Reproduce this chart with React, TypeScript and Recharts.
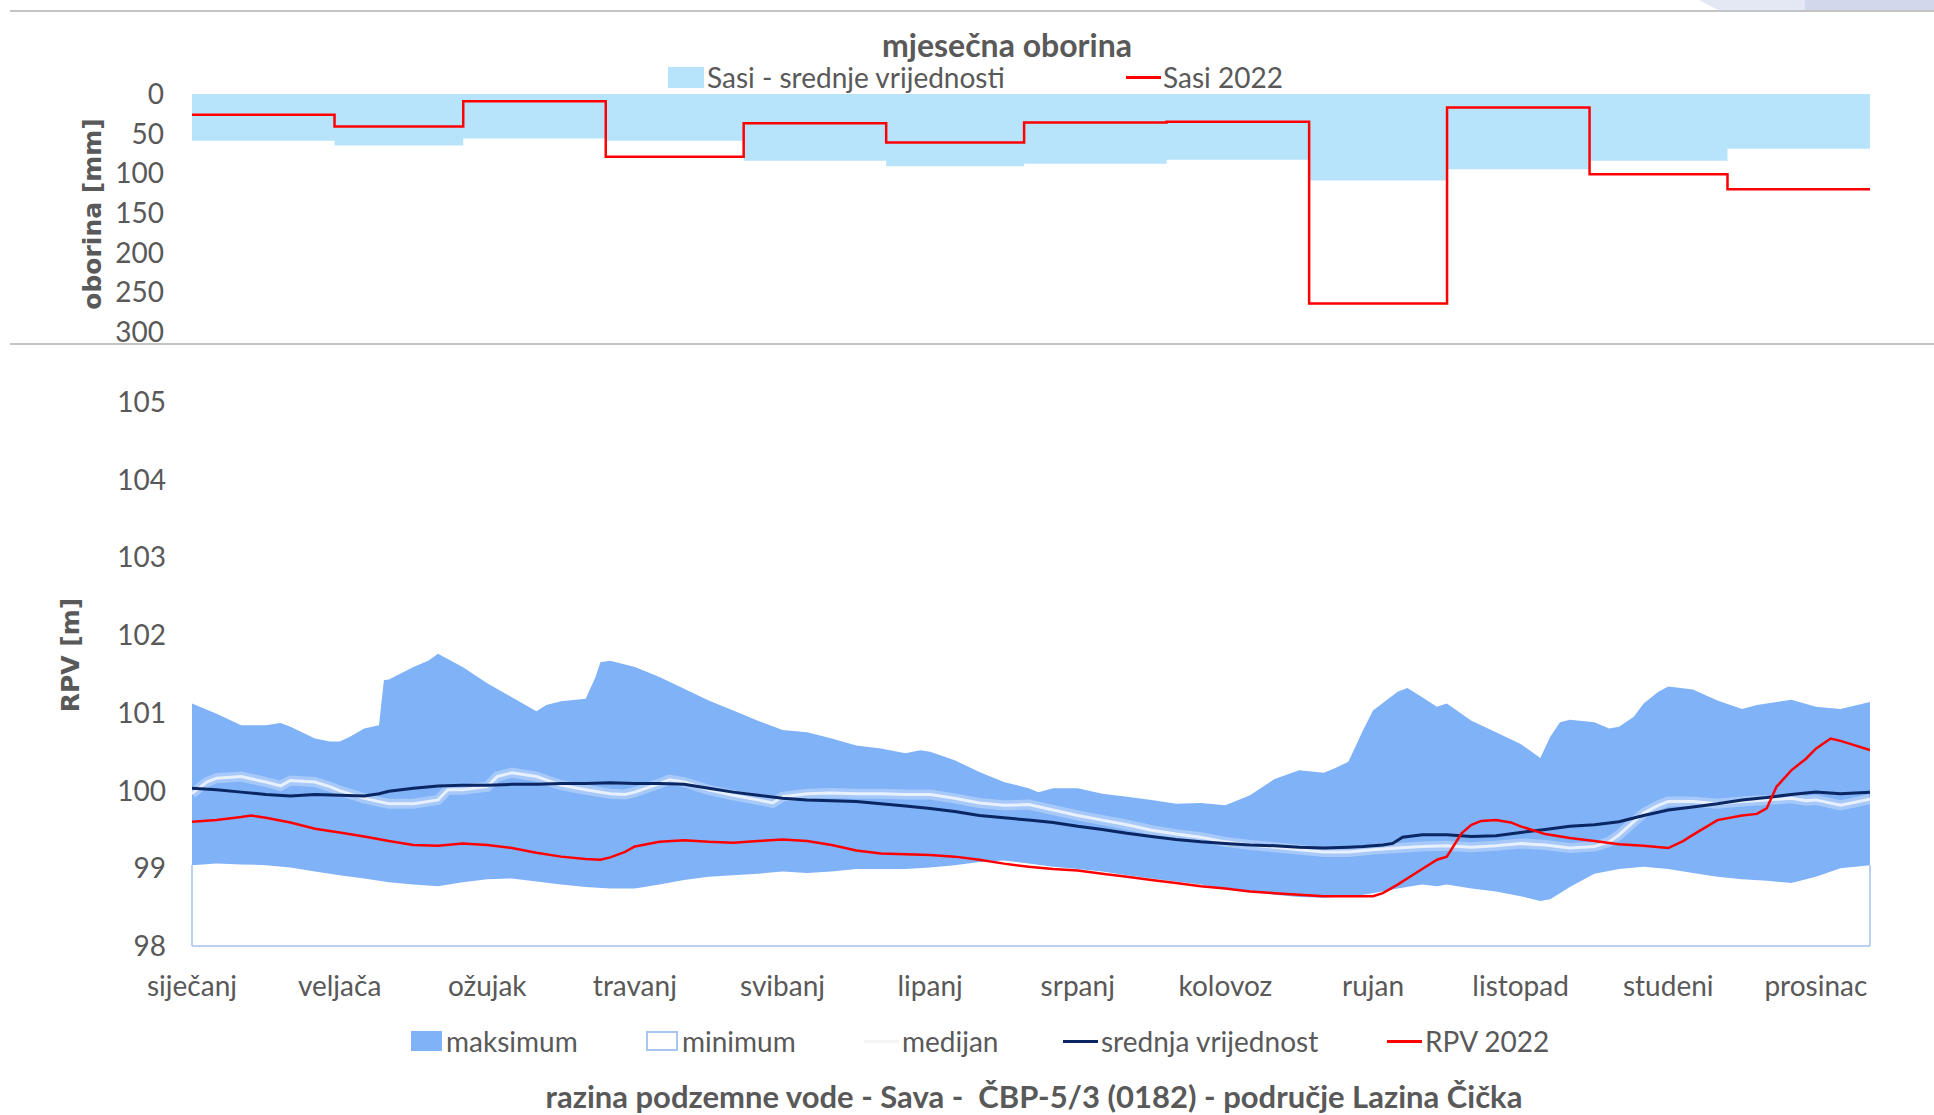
import { Area, ComposedChart, Line, ReferenceLine, XAxis, YAxis } from 'recharts';

// mjesečna oborina (Sasi) - početni dan svakog mjeseca i vrijednosti u mm
const precipStartDays = [0, 31, 59, 90, 120, 151, 181, 212, 243, 273, 304, 334, 365];
const precipMean = [59, 65, 56, 59, 84, 91, 88, 83, 109, 95, 84, 69];
const precip2022 = [26, 41, 9, 79, 37, 61, 36, 35, 264, 17, 101, 120];
const precipTicks = [0, 50, 100, 150, 200, 250, 300];

// razina podzemne vode - dani i vrijednosti [m]
const monthNames = ['siječanj', 'veljača', 'ožujak', 'travanj', 'svibanj', 'lipanj', 'srpanj', 'kolovoz', 'rujan', 'listopad', 'studeni', 'prosinac'];
const monthTicks = [0, 30, 60, 90, 120, 150, 180, 210, 240, 270, 300, 330];
const levelTicks = [98, 99, 100, 101, 102, 103, 104, 105];

const maxDays = [0, 5, 10, 15, 18, 20, 25, 28, 30, 32, 35, 38, 39, 40, 45, 48, 50, 55, 60, 65, 70, 72, 75, 80, 82, 83, 85, 90, 95, 100, 105, 110, 115, 120, 125, 130, 135, 140, 145, 148, 150, 155, 160, 165, 170, 172, 175, 180, 185, 190, 195, 200, 205, 210, 215, 220, 225, 230, 232, 235, 238, 240, 245, 247, 250, 253, 255, 260, 265, 270, 274, 276, 278, 280, 285, 288, 290, 293, 295, 298, 300, 305, 310, 315, 318, 320, 325, 330, 335, 341];
const maxVals = [101.12, 100.99, 100.84, 100.84, 100.87, 100.82, 100.67, 100.63, 100.63, 100.69, 100.8, 100.84, 101.42, 101.43, 101.59, 101.67, 101.76, 101.59, 101.38, 101.2, 101.02, 101.1, 101.15, 101.18, 101.46, 101.65, 101.67, 101.59, 101.46, 101.31, 101.16, 101.03, 100.9, 100.78, 100.75, 100.67, 100.58, 100.54, 100.48, 100.52, 100.5, 100.39, 100.24, 100.11, 100.03, 99.98, 100.03, 100.03, 99.96, 99.92, 99.88, 99.83, 99.84, 99.81, 99.94, 100.15, 100.26, 100.23, 100.28, 100.37, 100.78, 101.03, 101.27, 101.32, 101.2, 101.08, 101.12, 100.9, 100.75, 100.6, 100.42, 100.69, 100.88, 100.91, 100.88, 100.8, 100.82, 100.95, 101.12, 101.27, 101.34, 101.3, 101.16, 101.05, 101.1, 101.12, 101.17, 101.08, 101.05, 101.14];

const minDays = [0, 5, 10, 15, 20, 25, 30, 35, 40, 45, 50, 55, 60, 65, 70, 75, 80, 85, 90, 95, 100, 105, 110, 115, 120, 125, 130, 135, 140, 145, 150, 155, 160, 165, 170, 175, 180, 185, 190, 195, 200, 205, 210, 215, 220, 225, 230, 235, 238, 240, 245, 250, 253, 255, 260, 265, 270, 274, 276, 278, 280, 285, 290, 295, 300, 305, 310, 315, 320, 325, 330, 335, 341];
const minVals = [99.04, 99.06, 99.05, 99.04, 99.01, 98.96, 98.91, 98.87, 98.82, 98.79, 98.77, 98.82, 98.86, 98.87, 98.83, 98.79, 98.76, 98.74, 98.74, 98.79, 98.85, 98.89, 98.91, 98.93, 98.96, 98.94, 98.96, 98.99, 98.99, 98.99, 99.01, 99.04, 99.08, 99.1, 99.06, 99.02, 98.99, 98.96, 98.91, 98.87, 98.83, 98.79, 98.74, 98.7, 98.66, 98.63, 98.62, 98.64, 98.66, 98.68, 98.74, 98.79, 98.77, 98.79, 98.74, 98.7, 98.64, 98.58, 98.6, 98.68, 98.76, 98.93, 98.99, 99.02, 98.99, 98.94, 98.89, 98.86, 98.84, 98.81, 98.89, 99.0, 99.04];

const medDays = [0, 3, 5, 10, 15, 18, 20, 25, 28, 30, 35, 40, 45, 50, 52, 55, 60, 62, 65, 70, 75, 80, 85, 88, 90, 95, 97, 100, 105, 110, 115, 118, 120, 125, 130, 135, 140, 145, 150, 155, 160, 165, 170, 175, 180, 185, 190, 195, 200, 205, 210, 215, 220, 225, 230, 235, 240, 245, 250, 255, 260, 265, 270, 275, 280, 285, 288, 290, 293, 295, 298, 300, 305, 310, 315, 320, 325, 328, 330, 335, 341];
const medVals = [99.96, 100.11, 100.16, 100.18, 100.11, 100.06, 100.13, 100.11, 100.05, 100.0, 99.9, 99.83, 99.83, 99.88, 100.01, 100.01, 100.05, 100.18, 100.23, 100.18, 100.07, 100.01, 99.96, 99.95, 99.98, 100.09, 100.14, 100.11, 100.01, 99.94, 99.88, 99.84, 99.92, 99.96, 99.97, 99.96, 99.96, 99.95, 99.95, 99.9, 99.84, 99.81, 99.82, 99.75, 99.68, 99.62, 99.56, 99.49, 99.44, 99.4, 99.34, 99.3, 99.27, 99.24, 99.21, 99.21, 99.24, 99.26, 99.28, 99.29, 99.27, 99.29, 99.32, 99.3, 99.26, 99.28, 99.34, 99.43, 99.6, 99.71, 99.81, 99.86, 99.86, 99.83, 99.86, 99.88, 99.9, 99.87, 99.88, 99.81, 99.89];

const meanDays = [0, 5, 10, 15, 20, 25, 30, 35, 38, 40, 45, 50, 55, 60, 65, 70, 75, 80, 85, 90, 95, 100, 105, 110, 115, 120, 125, 130, 135, 140, 145, 150, 155, 160, 165, 170, 175, 180, 185, 190, 195, 200, 205, 210, 215, 220, 225, 230, 235, 238, 240, 242, 244, 246, 250, 255, 260, 265, 270, 275, 280, 285, 290, 295, 300, 305, 310, 315, 320, 325, 330, 335, 341];
const meanVals = [100.03, 100.01, 99.98, 99.95, 99.93, 99.95, 99.94, 99.93, 99.96, 99.99, 100.03, 100.06, 100.07, 100.07, 100.08, 100.08, 100.09, 100.09, 100.1, 100.09, 100.09, 100.08, 100.03, 99.98, 99.94, 99.9, 99.88, 99.87, 99.86, 99.83, 99.8, 99.77, 99.73, 99.68, 99.65, 99.62, 99.59, 99.54, 99.5, 99.45, 99.41, 99.37, 99.34, 99.32, 99.3, 99.29, 99.27, 99.26, 99.27, 99.28, 99.29, 99.3, 99.32, 99.4, 99.43, 99.43, 99.41, 99.42, 99.46, 99.5, 99.54, 99.56, 99.6, 99.68, 99.75, 99.79, 99.83, 99.88, 99.91, 99.95, 99.98, 99.96, 99.98];

const rpvDays = [0, 5, 10, 12, 15, 20, 25, 30, 35, 40, 45, 50, 55, 60, 65, 70, 75, 80, 83, 85, 88, 90, 95, 100, 105, 110, 115, 120, 125, 130, 135, 140, 145, 150, 155, 160, 165, 170, 175, 180, 185, 190, 195, 200, 205, 210, 215, 220, 225, 230, 235, 240, 242, 245, 248, 250, 253, 255, 258, 260, 262, 265, 268, 270, 275, 280, 285, 290, 295, 300, 303, 305, 310, 315, 318, 320, 322, 325, 328, 330, 333, 335, 341];
const rpvVals = [99.6, 99.62, 99.66, 99.68, 99.65, 99.59, 99.51, 99.46, 99.41, 99.35, 99.3, 99.29, 99.32, 99.3, 99.26, 99.2, 99.15, 99.12, 99.11, 99.14, 99.21, 99.28, 99.34, 99.36, 99.34, 99.33, 99.35, 99.37, 99.35, 99.3, 99.23, 99.19, 99.18, 99.17, 99.15, 99.11, 99.06, 99.02, 98.99, 98.97, 98.93, 98.89, 98.85, 98.81, 98.77, 98.74, 98.7, 98.68, 98.66, 98.64, 98.64, 98.64, 98.68, 98.79, 98.91, 98.99, 99.11, 99.15, 99.45, 99.56, 99.61, 99.62, 99.59, 99.54, 99.44, 99.39, 99.35, 99.31, 99.29, 99.26, 99.35, 99.43, 99.62, 99.68, 99.7, 99.77, 100.05, 100.26, 100.41, 100.54, 100.67, 100.64, 100.52];

const GRAY = '#595959';
const FONT = 'Lato, "Open Sans", sans-serif';
const AXIS_FONT = '"DejaVu Sans", sans-serif';

const toPoints = (days: number[], vals: number[]) => days.map((day, i) => ({ day, v: vals[i] }));

// zadnja točka ponavlja prosinac da stepenica dođe do kraja godine
const precipData = precipStartDays.map((day, i) => ({
  day,
  mean: precipMean[Math.min(i, 11)],
  y2022: precip2022[Math.min(i, 11)],
}));

const tickStyle = { fontSize: 28, fill: GRAY, fontFamily: FONT };

function Swatch({ left, top, w, h, fill, border }: { left: number; top: number; w: number; h: number; fill: string; border?: string }) {
  return (
    <div
      style={{
        position: 'absolute', left, top, width: w, height: h, background: fill,
        boxSizing: 'border-box', border: border ? `2px solid ${border}` : undefined,
      }}
    />
  );
}

function Label({ left, top, text }: { left: number; top: number; text: string }) {
  return (
    <div style={{ position: 'absolute', left, top: top - 20, height: 40, lineHeight: '40px', fontSize: 28, color: GRAY, whiteSpace: 'nowrap' }}>
      {text}
    </div>
  );
}

function Centered({ cx, cy, text, size }: { cx: number; cy: number; text: string; size: number }) {
  return (
    <div style={{ position: 'absolute', left: cx - 700, width: 1400, top: cy - 22, height: 44, lineHeight: '44px', textAlign: 'center', fontSize: size, fontWeight: 700, color: GRAY, whiteSpace: 'pre' }}>
      {text}
    </div>
  );
}

function VerticalTitle({ cx, cy, text }: { cx: number; cy: number; text: string }) {
  return (
    <div
      style={{
        position: 'absolute', left: cx - 200, top: cy - 20, width: 400, height: 40, lineHeight: '40px',
        textAlign: 'center', transform: 'rotate(-90deg)', fontFamily: AXIS_FONT, fontWeight: 700,
        fontSize: 25, color: GRAY, whiteSpace: 'nowrap',
      }}
    >
      {text}
    </div>
  );
}

export default function App() {
  const maxPts = toPoints(maxDays, maxVals);
  const minPts = toPoints(minDays, minVals);
  const medPts = toPoints(medDays, medVals);
  const meanPts = toPoints(meanDays, meanVals);
  const rpvPts = toPoints(rpvDays, rpvVals);
  const lastMin = minVals[minVals.length - 1];
  const lastDay = minDays[minDays.length - 1];

  return (
    <div style={{ position: 'absolute', left: 0, top: 0, width: 1934, height: 1115, background: '#fff', fontFamily: FONT, overflow: 'hidden' }}>
      {/* gornji rub stranice */}
      <div style={{ position: 'absolute', left: 1699, top: 0, width: 235, height: 11, background: '#e4e7f4', clipPath: 'polygon(0 0, 100% 0, 100% 100%, 9% 100%)' }} />
      <div style={{ position: 'absolute', left: 1805, top: 0, width: 129, height: 11, background: '#d2d8ec' }} />
      <div style={{ position: 'absolute', left: 10, top: 10, width: 1924, height: 2, background: '#c4c4c4' }} />
      <div style={{ position: 'absolute', left: 10, top: 343, width: 1924, height: 2, background: '#c4c4c4' }} />

      {/* oborina */}
      <div style={{ position: 'absolute', left: 0, top: 0 }}>
        <ComposedChart width={1934} height={362} data={precipData} margin={{ top: 94, right: 64, bottom: 30, left: 132 }}>
          <XAxis dataKey="day" type="number" domain={[0, 365]} hide />
          <YAxis
            type="number"
            domain={[0, 300]}
            ticks={precipTicks}
            reversed
            width={60}
            axisLine={false}
            tickLine={false}
            tickSize={0}
            tickMargin={28}
            tick={tickStyle}
            interval={0}
          />
          <Area type="stepAfter" dataKey="mean" fill="#b7e4fb" fillOpacity={1} stroke="none" isAnimationActive={false} />
          <Line type="stepAfter" dataKey="y2022" stroke="#ff0000" strokeWidth={2.5} dot={false} isAnimationActive={false} />
        </ComposedChart>
      </div>
      <Centered cx={1007} cy={45} text="mjesečna oborina" size={32} />
      <Swatch left={668} top={67} w={36} h={21} fill="#b7e4fb" />
      <Label left={707} top={77} text="Sasi - srednje vrijednosti" />
      <div style={{ position: 'absolute', left: 1126, top: 76, width: 35, height: 3, background: '#ff0000' }} />
      <Label left={1163} top={77} text="Sasi 2022" />
      <VerticalTitle cx={93} cy={214} text="oborina [mm]" />

      {/* razina podzemne vode */}
      <div style={{ position: 'absolute', left: 0, top: 345 }}>
        <ComposedChart width={1934} height={770} margin={{ top: 57, right: 64, bottom: 124, left: 132 }}>
          <XAxis
            dataKey="day"
            type="number"
            domain={[0, 341]}
            ticks={monthTicks}
            interval={0}
            tickFormatter={(d: number) => monthNames[monthTicks.indexOf(d)]}
            height={45}
            axisLine={{ stroke: '#b9d0f2', strokeWidth: 2 }}
            tickLine={false}
            tickSize={0}
            tickMargin={30}
            tick={tickStyle}
            allowDataOverflow
          />
          <YAxis
            type="number"
            domain={[98, 105]}
            ticks={levelTicks}
            interval={0}
            width={60}
            axisLine={false}
            tickLine={false}
            tickSize={0}
            tickMargin={26}
            tick={tickStyle}
            allowDataOverflow
          />
          <Area data={maxPts} dataKey="v" type="linear" fill="#80b2f8" fillOpacity={1} stroke="none" isAnimationActive={false} />
          <Area data={minPts} dataKey="v" type="linear" fill="#ffffff" fillOpacity={1} stroke="none" isAnimationActive={false} />
          <ReferenceLine segment={[{ x: minDays[0], y: 98 }, { x: minDays[0], y: minVals[0] }]} stroke="#b9d0f2" strokeWidth={2} />
          <ReferenceLine segment={[{ x: lastDay, y: 98 }, { x: lastDay, y: lastMin }]} stroke="#b9d0f2" strokeWidth={2} />
          <Line data={medPts} dataKey="v" type="linear" stroke="rgba(255,255,255,0.3)" strokeWidth={10} dot={false} isAnimationActive={false} />
          <Line data={medPts} dataKey="v" type="linear" stroke="rgba(244,247,253,0.85)" strokeWidth={3} dot={false} isAnimationActive={false} />
          <Line data={meanPts} dataKey="v" type="linear" stroke="#0a2763" strokeWidth={3} dot={false} isAnimationActive={false} />
          <Line data={rpvPts} dataKey="v" type="linear" stroke="#ff0000" strokeWidth={2.5} dot={false} isAnimationActive={false} />
        </ComposedChart>
      </div>
      <VerticalTitle cx={71} cy={655} text="RPV [m]" />

      <Swatch left={411} top={1031} w={31} h={20} fill="#80b2f8" />
      <Label left={446} top={1041} text="maksimum" />
      <Swatch left={646} top={1031} w={32} h={20} fill="#ffffff" border="#a9c6ee" />
      <Label left={682} top={1041} text="minimum" />
      <div style={{ position: 'absolute', left: 864, top: 1040, width: 35, height: 3, background: '#f4f4f4' }} />
      <Label left={902} top={1041} text="medijan" />
      <div style={{ position: 'absolute', left: 1063, top: 1040, width: 35, height: 3, background: '#0a2763' }} />
      <Label left={1101} top={1041} text="srednja vrijednost" />
      <div style={{ position: 'absolute', left: 1387, top: 1040, width: 35, height: 3, background: '#ff0000' }} />
      <Label left={1425} top={1041} text="RPV 2022" />
      <Centered cx={1034} cy={1096} text="razina podzemne vode - Sava -  ČBP-5/3 (0182) - područje Lazina Čička" size={31} />
    </div>
  );
}
